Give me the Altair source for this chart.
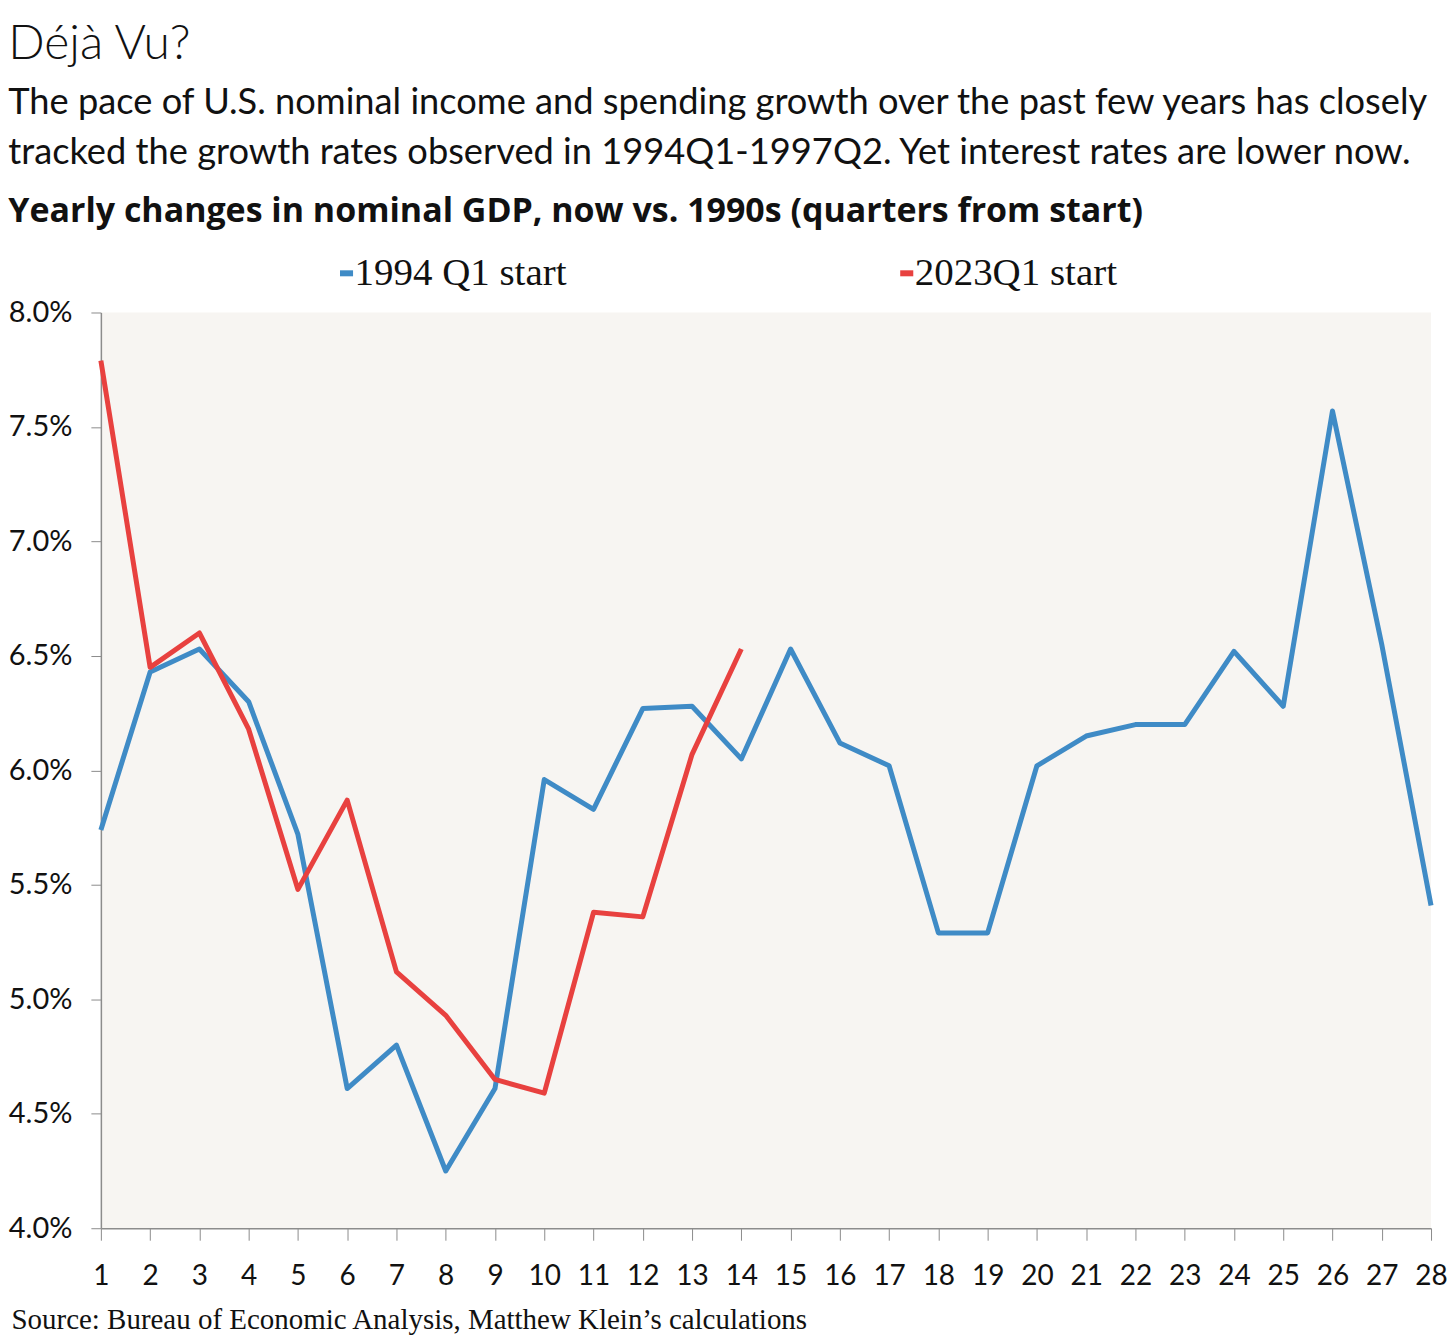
import pandas as pd
import altair as alt

# quarters from start
quarters = list(range(1, 29))

# yearly change in nominal GDP, 1994Q1 start (28 quarters)
growth_1994 = [5.74, 6.43, 6.53, 6.30, 5.72, 4.61, 4.80, 4.25, 4.61, 5.96,
               5.83, 6.27, 6.28, 6.05, 6.53, 6.12, 6.02, 5.29, 5.29, 6.02,
               6.15, 6.20, 6.20, 6.52, 6.28, 7.57, 6.55, 5.41]

# yearly change in nominal GDP, 2023Q1 start (14 quarters so far)
growth_2023 = [7.79, 6.45, 6.60, 6.18, 5.48, 5.87, 5.12, 4.93, 4.65, 4.59,
               5.38, 5.36, 6.07, 6.53]

series_names = ["1994 Q1 start", "2023Q1 start"]
series_colors = ["#3f8bc6", "#e8413f"]

y_ticks = [0.04, 0.045, 0.05, 0.055, 0.06, 0.065, 0.07, 0.075, 0.08]

df = pd.concat([
    pd.DataFrame({"q": quarters, "v": [g / 100 for g in growth_1994], "series": series_names[0]}),
    pd.DataFrame({"q": quarters[:len(growth_2023)], "v": [g / 100 for g in growth_2023], "series": series_names[1]}),
])

sans = "Lato"
serif = "Liberation Serif"

main = alt.Chart(df).mark_line(strokeWidth=5, strokeJoin="round").encode(
    alt.X("q:Q",
          scale=alt.Scale(domain=[1, 28], nice=False, zero=False),
          axis=alt.Axis(values=quarters, format="d", grid=False, tickSize=12,
                        tickColor="#8c8c8c", domainColor="#8c8c8c", domainWidth=1.5,
                        labelFont=sans, labelFontSize=28, labelColor="#111",
                        labelPadding=22, labelFlush=False,
                        title="Source: Bureau of Economic Analysis, Matthew Klein\u2019s calculations",
                        titleFont=serif, titleFontSize=29, titleFontWeight="normal",
                        titleColor="#111", titleAnchor="start", titleAlign="left",
                        titleBaseline="top", titleX=-90, titleY=77)),
    alt.Y("v:Q",
          scale=alt.Scale(domain=[0.04, 0.08], nice=False, zero=False),
          axis=alt.Axis(values=y_ticks, format=".1%", grid=False, tickSize=10,
                        tickColor="#8c8c8c", domainColor="#8c8c8c", domainWidth=1.5,
                        labelFont=sans, labelFontSize=29, labelColor="#111",
                        labelPadding=19, title=None)),
    alt.Color("series:N",
              scale=alt.Scale(domain=series_names, range=series_colors),
              legend=alt.Legend(title=None, orient="none", direction="horizontal",
                                legendX=215, legendY=-59,
                                symbolType="M0.7,0H2.55", symbolStrokeWidth=6,
                                symbolSize=200, labelOffset=0,
                                labelFont=serif, labelFontSize=39, labelColor="#111",
                                columnPadding=309, labelLimit=400)),
).properties(
    width=1332, height=917,
    title=alt.TitleParams("Yearly changes in nominal GDP, now vs. 1990s (quarters from start)",
                          anchor="start", font="Open Sans", fontSize=34, fontWeight="bold",
                          color="#111", offset=70),
)

chart = alt.vconcat(main).properties(
    title=alt.TitleParams(
        "D\u00e9j\u00e0 Vu?",
        subtitle=["The pace of U.S. nominal income and spending growth over the past few years has closely",
                  "tracked the growth rates observed in 1994Q1-1997Q2. Yet interest rates are lower now."],
        anchor="start", font=sans, fontSize=48, fontWeight=300, color="#111",
        subtitleFont=sans, subtitleFontSize=36.3, subtitleColor="#111",
        subtitleLineHeight=50, subtitlePadding=17, offset=23),
    padding={"left": 0, "top": 11, "right": 0, "bottom": 0},
).configure_view(fill="#f7f5f2", strokeWidth=0)

chart.save("out.html", embed_options={"renderer": "svg", "actions": False})
